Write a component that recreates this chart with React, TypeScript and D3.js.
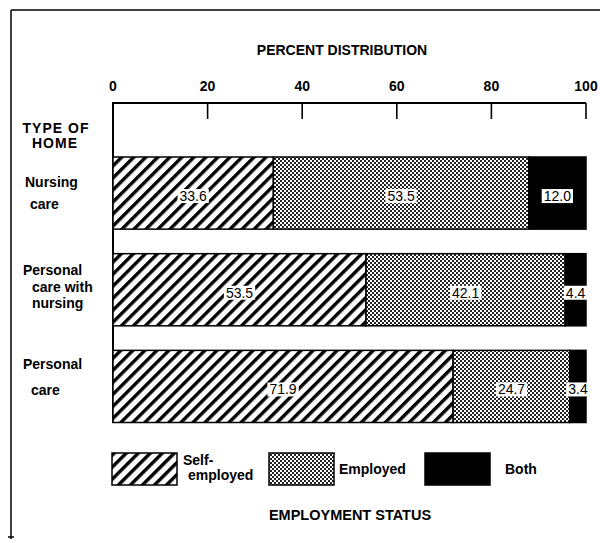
import React from "react";
import * as d3 from "d3";

const categories = ["Nursing care", "Personal care with nursing", "Personal care"];
const categoryLines = [["Nursing", "care"], ["Personal", "care with", "nursing"], ["Personal", "care"]];
const seriesKeys = ["Self-employed", "Employed", "Both"];
const selfEmployed = [33.6, 53.5, 71.9];
const employed = [53.5, 42.1, 24.7];
const both = [12.0, 4.4, 3.4];
const tickValues = [0, 20, 40, 60, 80, 100];

const W = 600;
const H = 543;
const FONT = "'Liberation Sans', Arial, sans-serif";

// per-line label placement (x start, baseline offset from band top)
const lineLayout = [
  [{ x: 25, dy: 30 }, { x: 30, dy: 52 }],
  [{ x: 23, dy: 21 }, { x: 32, dy: 38 }, { x: 32, dy: 54 }],
  [{ x: 23, dy: 19 }, { x: 31, dy: 45 }],
];

export default function App() {
  const rows = categories.map((c, i) => ({
    category: c,
    "Self-employed": selfEmployed[i],
    Employed: employed[i],
    Both: both[i],
  }));
  const stack = d3.stack<any>().keys(seriesKeys).offset(d3.stackOffsetExpand);
  const series = stack(rows);

  const x = d3.scaleLinear().domain([0, 1]).range([113, 586]);
  const y = d3.scaleBand<string>().domain(categories).range([157, 422.5]).paddingInner(0.254).paddingOuter(0);
  const fmt = d3.format(".1f");
  const fills = ["url(#hatch)", "url(#dots)", "#000"];
  const rawValues = [selfEmployed, employed, both];

  const legendItems = [
    { key: "Self-employed", x0: 112, lines: [{ t: "Self-", x: 183, y: 465 }, { t: "employed", x: 188, y: 480 }] },
    { key: "Employed", x0: 269, lines: [{ t: "Employed", x: 339, y: 474 }] },
    { key: "Both", x0: 425, lines: [{ t: "Both", x: 505, y: 474 }] },
  ];

  return (
    <svg width={W} height={H} style={{ position: "absolute", left: 0, top: 0, background: "#fff" }} fontFamily={FONT}>
      <defs>
        <pattern id="hatch" patternUnits="userSpaceOnUse" width={8.5} height={8.5} patternTransform="rotate(45)">
          <rect width={8.5} height={8.5} fill="#fff" />
          <rect x={0} y={0} width={3.4} height={8.5} fill="#000" />
        </pattern>
        <pattern id="dots" patternUnits="userSpaceOnUse" width={4} height={4}>
          <rect width={4} height={4} fill="#fff" />
          <rect x={0} y={0} width={2} height={2} fill="#222" />
          <rect x={2} y={2} width={2} height={2} fill="#222" />
        </pattern>
      </defs>
      <rect width={W} height={H} fill="#fff" />
      {/* frame */}
      <line x1={11} y1={10} x2={600} y2={10} stroke="#000" strokeWidth={1.5} />
      <line x1={11} y1={10} x2={11} y2={539} stroke="#000" strokeWidth={1.5} />
      <line x1={8} y1={537} x2={14} y2={537} stroke="#000" strokeWidth={1.5} />

      {/* axis title */}
      <text x={342} y={55} textAnchor="middle" fontSize={14} fontWeight="bold">PERCENT DISTRIBUTION</text>

      {/* top axis */}
      <line x1={x(0)} y1={103} x2={x(1)} y2={103} stroke="#000" strokeWidth={2} />
      <line x1={x(0)} y1={102} x2={x(0)} y2={423} stroke="#000" strokeWidth={2} />
      {tickValues.map((t) => (
        <g key={t}>
          {t > 0 && <line x1={x(t / 100)} y1={103} x2={x(t / 100)} y2={119} stroke="#000" strokeWidth={1.6} />}
          <text x={x(t / 100)} y={91} textAnchor="middle" fontSize={14} fontWeight="bold">{t}</text>
        </g>
      ))}

      {/* y title */}
      <text x={56} y={133} textAnchor="middle" fontSize={14} fontWeight="bold" letterSpacing={1}>TYPE OF</text>
      <text x={55} y={148} textAnchor="middle" fontSize={14} fontWeight="bold" letterSpacing={1}>HOME</text>

      {/* category labels */}
      {categories.map((c, i) =>
        categoryLines[i].map((ln, j) => (
          <text key={c + j} x={lineLayout[i][j].x} y={(y(c) as number) + lineLayout[i][j].dy} fontSize={14} fontWeight="bold">{ln}</text>
        ))
      )}

      {/* bars */}
      {series.map((s, k) =>
        s.map((d, i) => {
          const c = categories[i];
          const x0 = x(d[0]);
          const x1 = x(d[1]);
          return (
            <rect key={k + "-" + i} x={x0} y={y(c)} width={x1 - x0} height={y.bandwidth()} fill={fills[k]} stroke="#000" strokeWidth={1.5} />
          );
        })
      )}

      {/* value labels */}
      {series.map((s, k) =>
        s.map((d, i) => {
          const c = categories[i];
          const cx = (x(d[0]) + x(d[1])) / 2;
          const by = (y(c) as number) + y.bandwidth() / 2 + 8;
          const label = fmt(rawValues[k][i]);
          const w = label.replace(".", "").length * 7.8 + 3.9 + 4;
          return (
            <g key={"l" + k + "-" + i}>
              <rect x={cx - w / 2} y={by - 12} width={w} height={14} fill="#fff" />
              <text x={cx} y={by} textAnchor="middle" fontSize={14}>{label}</text>
            </g>
          );
        })
      )}

      {/* legend */}
      {legendItems.map((it, k) => (
        <g key={it.key}>
          <rect x={it.x0} y={453} width={65} height={32} fill={fills[k]} stroke="#000" strokeWidth={1.5} />
          {it.lines.map((l) => (
            <text key={l.t} x={l.x} y={l.y} fontSize={14} fontWeight="bold">{l.t}</text>
          ))}
        </g>
      ))}

      <text x={350} y={520} textAnchor="middle" fontSize={14.5} fontWeight="bold">EMPLOYMENT STATUS</text>
    </svg>
  );
}
